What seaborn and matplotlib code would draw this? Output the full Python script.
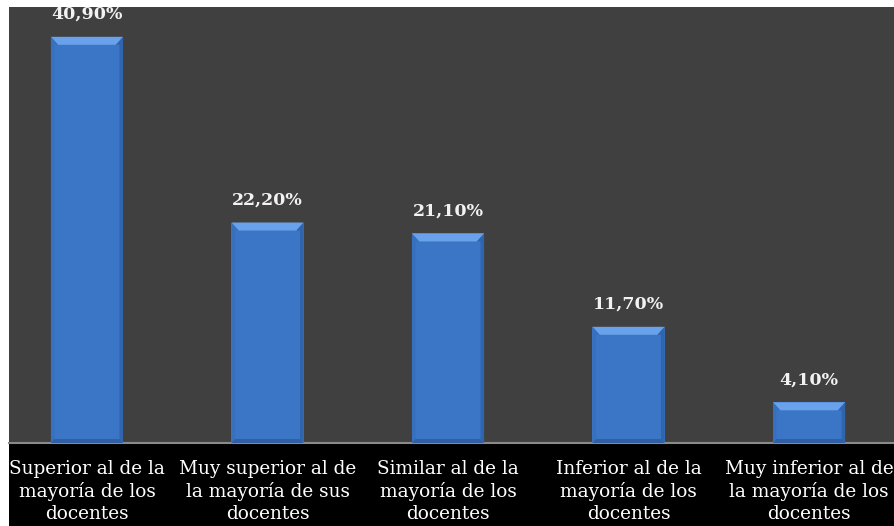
import matplotlib
matplotlib.use("Agg")
import matplotlib.pyplot as plt
from matplotlib.patches import Polygon, Rectangle
import seaborn as sns
import pandas as pd

categories = [
    "Superior al de la\nmayoría de los\ndocentes",
    "Muy superior al de\nla mayoría de sus\ndocentes",
    "Similar al de la\nmayoría de los\ndocentes",
    "Inferior al de la\nmayoría de los\ndocentes",
    "Muy inferior al de\nla mayoría de los\ndocentes",
]
values = [40.9, 22.2, 21.1, 11.7, 4.1]
value_labels = ["40,90%", "22,20%", "21,10%", "11,70%", "4,10%"]

df = pd.DataFrame({"categoria": categories, "porcentaje": values})

sns.set_theme(style="dark")
plt.rcParams["font.family"] = ["DejaVu Serif"]

W, H = 895, 526
fig = plt.figure(figsize=(W / 100, H / 100), dpi=100, facecolor="white")

left, right, top, base = 9, 895, 7, 443
ax = fig.add_axes([left / W, 1 - base / H, (right - left) / W, (base - top) / H])
ax.set_facecolor("#404040")

# black strip that holds the category labels
fig.patches.append(Rectangle((left / W, 0), (right - left) / W, 1 - base / H,
                             transform=fig.transFigure, facecolor="black",
                             edgecolor="none", zorder=-1))

sns.barplot(data=df, x="categoria", y="porcentaje", color="#3b76c6",
            width=0.4, saturation=1, ax=ax, zorder=2)

ax.set_xlim(-0.432, 4.476)
ax.set_ylim(0, 43.9)

# bevel shading on each bar
px_y = (ax.get_ylim()[1] - ax.get_ylim()[0]) / (base - top)
for p in ax.patches:
    p.set_edgecolor("none")
    x0, y0 = p.get_x(), p.get_y()
    w, h = p.get_width(), p.get_height()
    dx = w * 0.1
    dy = min(8 * px_y, h * 0.45)
    dyb = min(4 * px_y, h * 0.2)
    dxs = w * 0.05
    top_y = y0 + h
    ax.add_patch(Polygon([(x0, top_y), (x0 + w, top_y), (x0 + w - dx, top_y - dy),
                          (x0 + dx, top_y - dy)], closed=True,
                         facecolor="#69a2ea", edgecolor="none", zorder=3))
    ax.add_patch(Polygon([(x0, y0), (x0, top_y), (x0 + dx, top_y - dy),
                          (x0 + dxs, top_y - dy), (x0 + dxs, y0 + dyb)],
                         closed=True, facecolor="#3670be", edgecolor="none", zorder=3))
    ax.add_patch(Polygon([(x0 + w, y0), (x0 + w, top_y), (x0 + w - dx, top_y - dy),
                          (x0 + w - dxs, top_y - dy), (x0 + w - dxs, y0 + dyb)],
                         closed=True, facecolor="#3064ad", edgecolor="none", zorder=3))
    ax.add_patch(Polygon([(x0, y0), (x0 + w, y0), (x0 + w - dxs, y0 + dyb),
                          (x0 + dxs, y0 + dyb)],
                         closed=True, facecolor="#305fa4", edgecolor="none", zorder=3))

for i, (v, lab) in enumerate(zip(values, value_labels)):
    ax.annotate(lab, (i, v), xytext=(0, 10), textcoords="offset points",
                ha="center", va="bottom", color="#f2f2f2", fontsize=12.5,
                fontweight="bold")

ax.set_xlabel("")
ax.set_ylabel("")
ax.set_yticks([])
ax.tick_params(axis="x", length=0, pad=12, colors="white", labelsize=13.3)
for t in ax.get_xticklabels():
    t.set_linespacing(1.3)
    t.set_color("white")
for s in ["left", "right", "top"]:
    ax.spines[s].set_visible(False)
ax.spines["bottom"].set_color("#8a8a8a")
ax.spines["bottom"].set_linewidth(1.5)
ax.grid(False)

fig.savefig("out.png", dpi=100, facecolor="white")
